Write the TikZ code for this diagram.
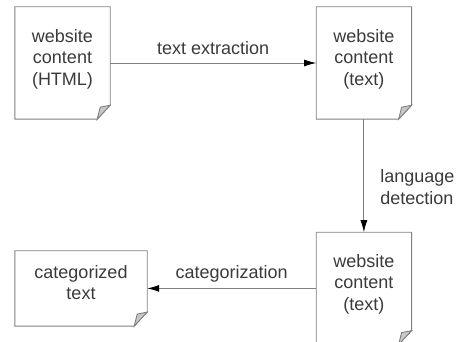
\documentclass[tikz,border=0pt]{standalone}
\usepackage{fontspec}
\setmainfont{Liberation Sans}
\usetikzlibrary{positioning,arrows.meta}
\definecolor{docline}{HTML}{808080}
\definecolor{doctext}{HTML}{3A3A3A}
\definecolor{docfold}{HTML}{C8C8C8}
\tikzstyle{doc} = [inner sep=0,align=center,text=doctext,text depth=12pt,font=\fontsize{18}{21.5}\selectfont,
  append after command={\pgfextra{
    \draw[docline,line width=0.9pt] (\tikzlastnode.north west) -- (\tikzlastnode.north east)
      -- ([yshift=14pt]\tikzlastnode.south east) -- ([xshift=-13pt]\tikzlastnode.south east)
      -- (\tikzlastnode.south west) -- cycle;
    \draw[docline,line width=0.9pt,fill=docfold] ([yshift=14pt]\tikzlastnode.south east)
      -- ([xshift=-10pt,yshift=12pt]\tikzlastnode.south east)
      -- ([xshift=-13pt]\tikzlastnode.south east) -- cycle;}}]
\tikzstyle{page} = [doc,minimum width=95pt,minimum height=112pt]
\tikzstyle{flow} = [draw=docline,line width=0.9pt,-{Latex[length=12pt,width=7pt,color=black]}]
\tikzstyle{step label} = [inner sep=0,text depth=0pt,text=doctext,font=\fontsize{18}{21.5}\selectfont]

\begin{document}
\begin{tikzpicture}
      \useasboundingbox (0,0) rectangle (458pt,-342pt);
      \node[page] (html) at (62.5pt,-63pt) {website\\content\\(HTML)};
      \node[page,right=206pt of html] (plain) {website\\content\\(text)};
      \node[page,below=113pt of plain] (lang) {website\\content\\(text)};
      \node[doc,minimum width=132pt,minimum height=75pt,left=169pt of lang] (cat) {categorized\\text};
      \draw[flow] (html) -- node[step label,above=8pt] {text extraction} (plain);
      \draw[flow] (plain) -- node[step label,right=16pt,pos=0.6,align=left] {language\\detection} (lang);
      \draw[flow] (lang) -- node[step label,above=9pt] {categorization} (cat);
    \end{tikzpicture}
\end{document}
